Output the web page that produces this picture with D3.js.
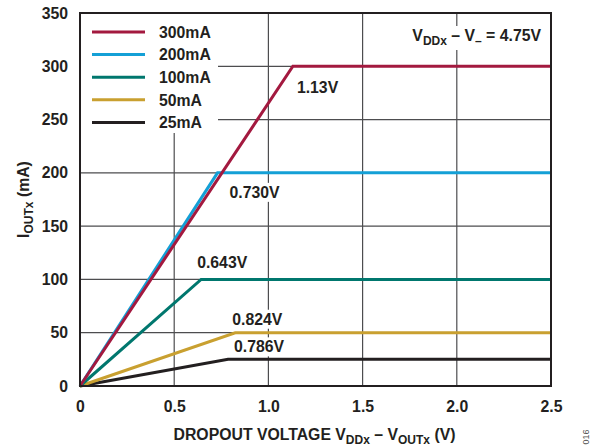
<!DOCTYPE html>
<html>
<head>
<meta charset="utf-8">
<script src="https://cdn.jsdelivr.net/npm/d3@7"></script>
<style>
  body { margin: 0; background: #ffffff; }
  text { font-family: 'Liberation Sans', Arial, sans-serif; font-weight: bold; fill: #231f20; }
</style>
</head>
<body>
<div id="chart"></div>
<script>
// load current series
const seriesNames = ['300mA', '200mA', '100mA', '50mA', '25mA']
const loadCurrents = [300, 200, 100, 50, 25]
const dropoutVoltages = [1.13, 0.730, 0.643, 0.824, 0.786]
const dropoutLabels = ['1.13V', '0.730V', '0.643V', '0.824V', '0.786V']
const xMaxVoltage = 2.5

const xTicks = [0, 0.5, 1.0, 1.5, 2.0, 2.5]
const xTickLabels = ['0', '0.5', '1.0', '1.5', '2.0', '2.5']
const yTicks = [0, 50, 100, 150, 200, 250, 300, 350]

// styling
const colors = ['#a3193f', '#14a0d6', '#00776e', '#c9a030', '#231f20']
// label offsets from the knee point (px)
const labelOffsets = [[4, 27], [12, 25], [-4, -11], [-3, -8], [6, -7]]
const fs = '15.8px'
const subFs = '12px'

const W = 601, H = 448
const margin = {top: 13, right: 50, bottom: 62, left: 80}
const width = W - margin.left - margin.right
const height = H - margin.top - margin.bottom

const svg = d3.select('#chart').append('svg')
  .attr('width', W).attr('height', H)

const g = svg.append('g')
  .attr('transform', 'translate(' + margin.left + ',' + margin.top + ')')

const x = d3.scaleLinear().domain([0, 2.5]).range([0, width])
const y = d3.scaleLinear().domain([0, 350]).range([height, 0])

// grid
g.append('g').selectAll('line.v')
  .data(xTicks.slice(1, -1))
  .enter().append('line')
    .attr('x1', d => x(d)).attr('x2', d => x(d))
    .attr('y1', 0).attr('y2', height)
    .style('stroke', '#4d4d4f').style('stroke-width', 1.2)

g.append('g').selectAll('line.h')
  .data(yTicks.slice(1, -1))
  .enter().append('line')
    .attr('x1', 0).attr('x2', width)
    .attr('y1', d => y(d)).attr('y2', d => y(d))
    .style('stroke', '#4d4d4f').style('stroke-width', 1.2)

// axes (labels only)
const xAxis = g.append('g')
  .attr('transform', 'translate(0,' + height + ')')
  .call(d3.axisBottom(x).tickValues(xTicks).tickFormat((d, i) => xTickLabels[i]).tickSize(0).tickPadding(15))
xAxis.select('.domain').remove()
xAxis.selectAll('text').style('font-size', fs).style('font-family', "'Liberation Sans', Arial, sans-serif").style('font-weight', 'bold').style('fill', '#231f20')

const yAxis = g.append('g')
  .call(d3.axisLeft(y).tickValues(yTicks).tickSize(0).tickPadding(12))
yAxis.select('.domain').remove()
yAxis.selectAll('text').style('font-size', fs).style('font-family', "'Liberation Sans', Arial, sans-serif").style('font-weight', 'bold').style('fill', '#231f20')

// legend background (hides grid)
const legend = g.append('g')
legend.append('rect')
  .attr('x', 0).attr('y', 0).attr('width', 138).attr('height', 120)
  .style('fill', '#ffffff')

// annotation: supply condition
const cond = g.append('g')
const condText = cond.append('text')
  .attr('x', x(2.5) - 10).attr('y', 28)
  .attr('text-anchor', 'end')
  .style('font-size', fs)
condText.append('tspan').text('V')
condText.append('tspan').text('DDx').attr('dy', 4).style('font-size', subFs)
condText.append('tspan').text(' \u2013 V').attr('dy', -4)
condText.append('tspan').text('\u2013').attr('dy', 4).style('font-size', subFs)
condText.append('tspan').text(' = 4.75V').attr('dy', -4)
const cb = condText.node().getBBox()
cond.insert('rect', 'text')
  .attr('x', cb.x - 2).attr('y', cb.y - 1).attr('width', cb.width + 4).attr('height', cb.height + 3)
  .style('fill', '#ffffff')

// dropout labels with white boxes
dropoutLabels.forEach((lbl, i) => {
  const px = x(dropoutVoltages[i]) + labelOffsets[i][0]
  const py = y(loadCurrents[i]) + labelOffsets[i][1]
  const lg = g.append('g')
  const t = lg.append('text')
    .attr('x', px).attr('y', py)
    .style('font-size', fs)
    .text(lbl)
  const b = t.node().getBBox()
  lg.insert('rect', 'text')
    .attr('x', b.x - 2).attr('y', b.y - 1).attr('width', b.width + 4).attr('height', b.height + 2)
    .style('fill', '#ffffff')
})

// curves
const line = d3.line().x(d => x(d[0])).y(d => y(d[1]))
const order = [4, 3, 2, 1, 0]
order.forEach(i => {
  const pts = [[0, 0], [dropoutVoltages[i], loadCurrents[i]], [xMaxVoltage, loadCurrents[i]]]
  g.append('path')
    .datum(pts)
    .attr('d', line)
    .style('fill', 'none')
    .style('stroke', colors[i])
    .style('stroke-width', 3)
    .style('stroke-linejoin', 'miter')
})

// legend items
const items = legend.selectAll('.legend-item')
  .data(seriesNames)
  .enter().append('g')
  .attr('transform', (d, i) => 'translate(0,' + (19 + i * 22.6) + ')')
items.append('line')
  .attr('x1', 12).attr('x2', 65).attr('y1', 0).attr('y2', 0)
  .style('stroke', (d, i) => colors[i]).style('stroke-width', 3)
items.append('text')
  .attr('x', 79).attr('y', 0).attr('dy', '0.36em')
  .style('font-size', fs)
  .text(d => d)

// frame
g.append('rect')
  .attr('x', 0).attr('y', 0).attr('width', width).attr('height', height)
  .style('fill', 'none').style('stroke', '#231f20').style('stroke-width', 2)

// axis titles
const xt = svg.append('text')
  .attr('x', margin.left + width / 2 - 1).attr('y', 440)
  .attr('text-anchor', 'middle')
  .style('font-size', fs)
xt.append('tspan').text('DROPOUT VOLTAGE V')
xt.append('tspan').text('DDx').attr('dy', 4).style('font-size', subFs)
xt.append('tspan').text(' \u2013 V').attr('dy', -4)
xt.append('tspan').text('OUTx').attr('dy', 4).style('font-size', subFs)
xt.append('tspan').text(' (V)').attr('dy', -4)

const yt = svg.append('text')
  .attr('transform', 'translate(29,' + (margin.top + height / 2) + ') rotate(-90)')
  .attr('text-anchor', 'middle')
  .style('font-size', fs)
yt.append('tspan').text('I')
yt.append('tspan').text('OUTx').attr('dy', 4).style('font-size', subFs)
yt.append('tspan').text(' (mA)').attr('dy', -4)

// figure id
svg.append('text')
  .attr('transform', 'translate(589,437) rotate(-90)')
  .attr('text-anchor', 'middle')
  .style('font-size', '9px').style('font-weight', 'normal').style('fill', '#555555')
  .text('016')
</script>
</body>
</html>
